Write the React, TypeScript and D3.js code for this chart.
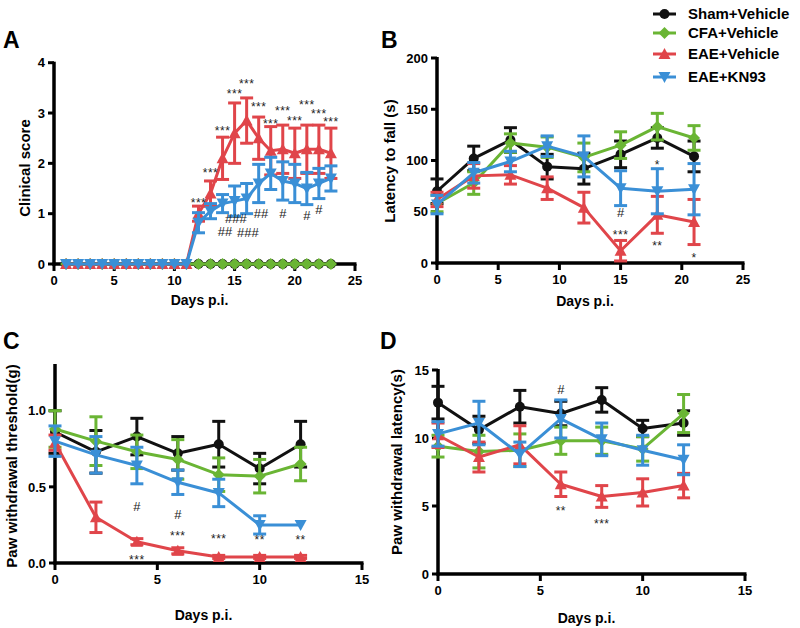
import React from "react";
import * as d3 from "d3";

// ---------- DATA ----------
const seriesNames = ["Sham+Vehicle", "CFA+Vehicle", "EAE+Vehicle", "EAE+KN93"];
const seriesColors = ["#111111", "#6ab534", "#e0454a", "#3a8fd6"];
const seriesShapes = ["circle", "diamond", "triUp", "triDown"];

// Panel A: clinical score
const daysA = [1, 2, 3, 4, 5, 6, 7, 8, 9, 10, 11, 12, 13, 14, 15, 16, 17, 18, 19, 20, 21, 22, 23];
const shamA = [0, 0, 0, 0, 0, 0, 0, 0, 0, 0, 0, 0, 0, 0, 0, 0, 0, 0, 0, 0, 0, 0, 0];
const cfaA = [0, 0, 0, 0, 0, 0, 0, 0, 0, 0, 0, 0, 0, 0, 0, 0, 0, 0, 0, 0, 0, 0, 0];
const eaeVehA = [0, 0, 0, 0, 0, 0, 0, 0, 0, 0, 0, 1.0, 1.4, 2.1, 2.6, 2.85, 2.5, 2.25, 2.28, 2.2, 2.28, 2.28, 2.2];
const eaeVehAErr = [0, 0, 0, 0, 0, 0, 0, 0, 0, 0, 0, 0.15, 0.25, 0.42, 0.6, 0.45, 0.42, 0.48, 0.48, 0.5, 0.48, 0.48, 0.5];
const kn93A = [0, 0, 0, 0, 0, 0, 0, 0, 0, 0, 0, 0.82, 1.05, 1.2, 1.25, 1.3, 1.6, 1.8, 1.65, 1.6, 1.5, 1.6, 1.7];
const kn93AErr = [0, 0, 0, 0, 0, 0, 0, 0, 0, 0, 0, 0.2, 0.15, 0.18, 0.3, 0.3, 0.38, 0.32, 0.38, 0.38, 0.32, 0.3, 0.25];
const zeroErrA = [0, 0, 0, 0, 0, 0, 0, 0, 0, 0, 0, 0, 0, 0, 0, 0, 0, 0, 0, 0, 0, 0, 0];

// Panel B: latency to fall
const daysB = [0, 3, 6, 9, 12, 15, 18, 21];
const shamB = [70, 102, 120, 94, 92, 106, 122, 104];
const shamBErr = [12, 12, 12, 12, 15, 13, 10, 15];
const cfaB = [58, 78, 117, 113, 103, 115, 133, 122];
const cfaBErr = [8, 11, 9, 10, 14, 13, 13, 12];
const eaeVehB = [62, 85, 86, 73, 54, 12, 47, 40];
const eaeVehBErr = [7, 12, 9, 11, 15, 10, 18, 22];
const kn93B = [57, 88, 99, 114, 104, 73, 70, 72];
const kn93BErr = [9, 10, 10, 10, 20, 17, 22, 25];

// Panels C and D
const daysCD = [0, 2, 4, 6, 8, 10, 12];
const shamC = [0.86, 0.73, 0.83, 0.72, 0.78, 0.62, 0.78];
const shamCErr = [0.14, 0.14, 0.12, 0.11, 0.15, 0.1, 0.15];
const cfaC = [0.88, 0.8, 0.73, 0.68, 0.58, 0.57, 0.65];
const cfaCErr = [0.12, 0.16, 0.11, 0.13, 0.11, 0.11, 0.11];
const eaeVehC = [0.79, 0.3, 0.14, 0.08, 0.04, 0.04, 0.04];
const eaeVehCErr = [0.05, 0.1, 0.02, 0.02, 0.01, 0.01, 0.01];
const kn93C = [0.8, 0.71, 0.64, 0.53, 0.46, 0.25, 0.25];
const kn93CErr = [0.1, 0.12, 0.12, 0.08, 0.09, 0.06, 0.0];

const shamD = [12.6, 10.6, 12.3, 11.8, 12.8, 10.7, 11.1];
const shamDErr = [1.2, 1.0, 1.2, 0.9, 0.9, 0.6, 0.9];
const cfaD = [9.4, 9.0, 9.1, 9.8, 9.8, 9.2, 11.8];
const cfaDErr = [0.8, 1.2, 1.2, 1.0, 1.0, 0.9, 1.4];
const eaeVehD = [10.2, 8.6, 9.5, 6.6, 5.7, 6.0, 6.5];
const eaeVehDErr = [0.9, 1.1, 1.4, 0.9, 0.8, 1.0, 0.9];
const kn93D = [10.3, 11.1, 8.8, 11.4, 9.9, 9.1, 8.4];
const kn93DErr = [0.9, 1.6, 0.9, 1.4, 1.2, 1.1, 1.1];

// Significance marks: [day, value, text]
const marksA: [number, number, string][] = [
  [12, 1.28, "***"], [13, 1.88, "***"], [14, 2.71, "***"], [15, 3.45, "***"],
  [16, 3.65, "***"], [17, 3.18, "***"], [18, 2.85, "***"], [19, 3.1, "***"],
  [20, 2.91, "***"], [21, 3.22, "***"], [22, 3.05, "***"], [23, 2.88, "***"],
  [15.1, 0.9, "###"], [14.2, 0.64, "##"], [16.1, 0.63, "###"], [17.2, 1.01, "##"],
  [19, 1.01, "#"], [21, 0.96, "#"], [22, 1.08, "#"],
];
const marksB: [number, number, string][] = [
  [15, 49, "#"], [15, 30, "***"], [18, 99, "*"], [18, 20, "**"], [21, 8, "*"],
];
const marksC: [number, number, string][] = [
  [4, 0.37, "#"], [6, 0.32, "#"], [4, 0.04, "***"], [6, 0.2, "***"],
  [8, 0.18, "***"], [10, 0.17, "**"], [12, 0.17, "**"],
];
const marksD: [number, number, string][] = [
  [6, 13.6, "#"], [6, 4.9, "**"], [8, 3.9, "***"],
];

const ticksA = [0, 1, 2, 3, 4];
const ticksB = [0, 50, 100, 150, 200];
const ticksC = [0, 0.5, 1.0];
const ticksD = [0, 5, 10, 15];
const xTicks25 = [0, 5, 10, 15, 20, 25];
const xTicks15 = [0, 5, 10, 15];

const FONT = "'Liberation Sans', Arial, sans-serif";

function Marker({ shape, x, y, color, s = 6 }: any) {
  if (shape === "circle") return <circle cx={x} cy={y} r={s} fill={color} />;
  if (shape === "diamond")
    return <path d={`M${x},${y - s - 1}L${x + s + 1},${y}L${x},${y + s + 1}L${x - s - 1},${y}Z`} fill={color} />;
  if (shape === "triUp")
    return <path d={`M${x},${y - s - 1}L${x + s + 1},${y + s}L${x - s - 1},${y + s}Z`} fill={color} />;
  return <path d={`M${x},${y + s + 1}L${x + s + 1},${y - s}L${x - s - 1},${y - s}Z`} fill={color} />;
}

function Panel({ letter, letterPos, x, y, yTicks, yFmt, xTicks, data, marks, yTitle, yTitlePos, xTitleY }: any) {
  const lineGen = d3.line<[number, number]>().x((d) => x(d[0])).y((d) => y(d[1]));
  const y0 = y.range()[0];
  const yTop = y.range()[1];
  const x0 = x.range()[0];
  const x1 = x.range()[1];
  return (
    <g>
      <text x={letterPos[0]} y={letterPos[1]} fontSize={23} fontWeight="bold" fontFamily={FONT}>{letter}</text>
      {/* y axis */}
      <line x1={x0} x2={x0} y1={yTop - 1} y2={y0 + 1.5} stroke="#000" strokeWidth={3.5} />
      {yTicks.map((t: number) => (
        <g key={"y" + t}>
          <line x1={x0 - 6} x2={x0} y1={y(t)} y2={y(t)} stroke="#000" strokeWidth={3} />
          <text x={x0 - 9} y={y(t)} dy="0.36em" textAnchor="end" fontSize={13} fontWeight="bold" fontFamily={FONT}>{yFmt(t)}</text>
        </g>
      ))}
      {/* x axis */}
      <line x1={x0 - 1.5} x2={x1 + 1.5} y1={y0} y2={y0} stroke="#000" strokeWidth={3.5} />
      {xTicks.map((t: number) => (
        <g key={"x" + t}>
          <line x1={x(t)} x2={x(t)} y1={y0} y2={y0 + 7} stroke="#000" strokeWidth={3} />
          <text x={x(t)} y={y0 + 21} textAnchor="middle" fontSize={13} fontWeight="bold" fontFamily={FONT}>{t}</text>
        </g>
      ))}
      <text x={(x0 + x1) / 2 - 5} y={xTitleY} textAnchor="middle" fontSize={14} fontWeight="bold" fontFamily={FONT}>Days p.i.</text>
      <text transform={`translate(${yTitlePos[0]},${yTitlePos[1]}) rotate(-90)`} textAnchor="middle" dy="0.35em" fontSize={15} fontWeight="bold" fontFamily={FONT}>{yTitle}</text>
      {/* series */}
      {data.map((s: any, i: number) => {
        const pts: [number, number][] = s.days.map((d: number, j: number) => [d, s.vals[j]]);
        const color = seriesColors[i];
        return (
          <g key={"s" + i}>
            {s.days.map((d: number, j: number) => {
              const e = s.err[j];
              if (!e) return null;
              const cx = x(d);
              const yt = y(s.vals[j] + e);
              const yb = y(Math.max(0, s.vals[j] - e));
              return (
                <g key={"e" + j} stroke={color} strokeWidth={3}>
                  <line x1={cx} x2={cx} y1={yt} y2={yb} />
                  <line x1={cx - 6.5} x2={cx + 6.5} y1={yt} y2={yt} />
                  <line x1={cx - 6.5} x2={cx + 6.5} y1={yb} y2={yb} />
                </g>
              );
            })}
            <path d={lineGen(pts) || ""} fill="none" stroke={color} strokeWidth={3} strokeLinejoin="round" />
            {pts.map((p, j) => (
              <Marker key={"m" + j} shape={seriesShapes[i]} x={x(p[0])} y={y(p[1])} color={color} s={5} />
            ))}
          </g>
        );
      })}
      {marks.map((m: [number, number, string], k: number) => {
        const isHash = m[2][0] === "#";
        return (
          <text key={"k" + k} x={x(m[0])} y={y(m[1])} dy={isHash ? "0.35em" : "0.6em"} textAnchor="middle"
            fontSize={isHash ? 13 : 12} letterSpacing={isHash ? 0 : 0.5} fill="#222" fontFamily={FONT}>{m[2]}</text>
        );
      })}
    </g>
  );
}

export default function App() {
  const xA = d3.scaleLinear().domain([0, 25]).range([54, 355]);
  const yA = d3.scaleLinear().domain([0, 4]).range([264, 62.7]);
  const xB = d3.scaleLinear().domain([0, 25]).range([437, 743]);
  const yB = d3.scaleLinear().domain([0, 200]).range([263, 58]);
  const xC = d3.scaleLinear().domain([0, 15]).range([55, 362]);
  const yC = d3.scaleLinear().domain([0, 1.3]).range([563, 365]);
  const xD = d3.scaleLinear().domain([0, 15]).range([438, 745]);
  const yD = d3.scaleLinear().domain([0, 15]).range([574, 370]);

  const dataA = [
    { days: daysA, vals: shamA, err: zeroErrA },
    { days: daysA, vals: cfaA, err: zeroErrA },
    { days: daysA, vals: eaeVehA, err: eaeVehAErr },
    { days: daysA, vals: kn93A, err: kn93AErr },
  ];
  const dataB = [
    { days: daysB, vals: shamB, err: shamBErr },
    { days: daysB, vals: cfaB, err: cfaBErr },
    { days: daysB, vals: eaeVehB, err: eaeVehBErr },
    { days: daysB, vals: kn93B, err: kn93BErr },
  ];
  const dataC = [
    { days: daysCD, vals: shamC, err: shamCErr },
    { days: daysCD, vals: cfaC, err: cfaCErr },
    { days: daysCD, vals: eaeVehC, err: eaeVehCErr },
    { days: daysCD, vals: kn93C, err: kn93CErr },
  ];
  const dataD = [
    { days: daysCD, vals: shamD, err: shamDErr },
    { days: daysCD, vals: cfaD, err: cfaDErr },
    { days: daysCD, vals: eaeVehD, err: eaeVehDErr },
    { days: daysCD, vals: kn93D, err: kn93DErr },
  ];
  const legendY = [14, 33, 54, 77];

  return (
    <svg width={800} height={628} style={{ position: "absolute", left: 0, top: 0, background: "#fff" }}>
      <rect width={800} height={628} fill="#fff" />
      <Panel letter="A" letterPos={[3, 48]} x={xA} y={yA} yTicks={ticksA} yFmt={(t: number) => String(t)} xTicks={xTicks25}
        data={dataA} marks={marksA} yTitle="Clinical score" yTitlePos={[25, 168]} xTitleY={305} />
      <Panel letter="B" letterPos={[381, 48]} x={xB} y={yB} yTicks={ticksB} yFmt={(t: number) => String(t)} xTicks={xTicks25}
        data={dataB} marks={marksB} yTitle="Latency to fall (s)" yTitlePos={[390, 161]} xTitleY={306} />
      <Panel letter="C" letterPos={[3, 349]} x={xC} y={yC} yTicks={ticksC} yFmt={(t: number) => t.toFixed(1)} xTicks={xTicks15}
        data={dataC} marks={marksC} yTitle="Paw withdrawal threshold(g)" yTitlePos={[12, 466]} xTitleY={620} />
      <Panel letter="D" letterPos={[380, 349]} x={xD} y={yD} yTicks={ticksD} yFmt={(t: number) => String(t)} xTicks={xTicks15}
        data={dataD} marks={marksD} yTitle="Paw withdrawal latency(s)" yTitlePos={[397, 462]} xTitleY={623} />
      {seriesNames.map((n, i) => (
        <g key={n}>
          <line x1={653} x2={676} y1={legendY[i]} y2={legendY[i]} stroke={seriesColors[i]} strokeWidth={3} />
          <Marker shape={seriesShapes[i]} x={664.5} y={legendY[i]} color={seriesColors[i]} s={5} />
          <text x={688} y={legendY[i]} dy="0.36em" fontSize={15} fontWeight="bold" fontFamily={FONT}>{n}</text>
        </g>
      ))}
    </svg>
  );
}
